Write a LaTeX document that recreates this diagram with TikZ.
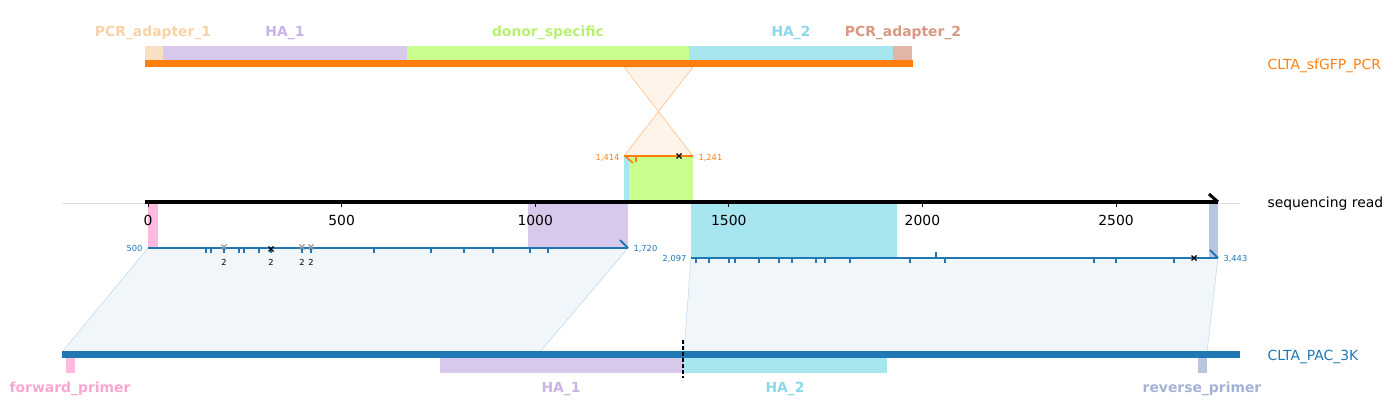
\documentclass[tikz,border=0pt]{standalone}
\usepackage{fontspec}
\setmainfont{DejaVu Sans}
\usetikzlibrary{positioning}
\definecolor{pcrorange}{HTML}{FF7F0E}
\definecolor{pacblue}{HTML}{1F77B4}
\definecolor{adaptA}{HTML}{F9E0C2}
\definecolor{adaptAtxt}{HTML}{F8D2A6}
\definecolor{homA}{HTML}{D8C8EC}
\definecolor{homAtxt}{HTML}{C8B4E6}
\definecolor{donor}{HTML}{C9FF8E}
\definecolor{donortxt}{HTML}{B8F070}
\definecolor{homB}{HTML}{A8E6EF}
\definecolor{homBtxt}{HTML}{8AD8E8}
\definecolor{adaptB}{HTML}{E1B5A8}
\definecolor{adaptBtxt}{HTML}{D99882}
\definecolor{fwd}{HTML}{FFB8DE}
\definecolor{fwdtxt}{HTML}{F9A6D4}
\definecolor{rev}{HTML}{BAC5E0}
\definecolor{revtxt}{HTML}{A3B2D6}
\definecolor{alnfill}{HTML}{F1F6FA}
\definecolor{alnedge}{HTML}{B4D2E8}
\definecolor{hourfill}{HTML}{FFF3EA}
\definecolor{houredge}{HTML}{FFCFA6}

\begin{document}
\begin{tikzpicture}[x=1pt,y=-1pt,
    featlabel/.style={font=\fontsize{13.9}{16}\selectfont\bfseries},
    seqlabel/.style={font=\fontsize{13.9}{16}\selectfont,anchor=west},
    ticklabel/.style={font=\fontsize{13.9}{16}\selectfont},
    poslabel/.style={font=\fontsize{8.3}{10}\selectfont},
    alntick/.style={pacblue,line width=2.4pt},
    crossmark/.style={line width=1.1pt}]
  \useasboundingbox (0,0) rectangle (1394,420);
  % top record
  \fill[adaptA] (145,46) rectangle (163,60);
  \fill[homA] (163,46) rectangle (407,60);
  \fill[donor] (407,46) rectangle (689,60);
  \fill[homB] (689,46) rectangle (893,60);
  \fill[adaptB] (893,46) rectangle (912,60);
  \fill[hourfill,draw=houredge,line width=0.9pt] (624,67) -- (693,67) -- (624,156) -- (693,156) -- cycle;
  \fill[pcrorange] (145,60) rectangle (913,67);
  \node[featlabel,text=adaptAtxt] (lblAdaptA) at (153,33) {PCR\_adapter\_1};
  \node[featlabel,text=homAtxt] (lblHomA) at (285,33) {HA\_1};
  \node[featlabel,text=donortxt] (lblDonor) at (548,33) {donor\_specific};
  \node[featlabel,text=homBtxt] (lblHomB) at (791,33) {HA\_2};
  \node[featlabel,text=adaptBtxt] (lblAdaptB) at (903,33) {PCR\_adapter\_2};
  \node[seqlabel,text=pcrorange] (lblPcr) at (1264,66) {CLTA\_sfGFP\_PCR};
  % sequencing read
  \fill[homB] (624,156) rectangle (629,202);
  \fill[donor] (629,156) rectangle (693,202);
  \fill[fwd] (148,203) rectangle (158,248);
  \fill[homA] (528,203) rectangle (628,248);
  \fill[homB] (691,203) rectangle (897,258);
  \fill[rev] (1209,203) rectangle (1218,258);
  \draw[black!12,line width=0.8pt] (62,203) -- (1240,203);
  \draw[line width=3.5pt] (145,202) -- (1218,202);
  \draw[line width=3pt] (1209,194) -- (1218,202);
  \foreach \v in {0,500,...,2500}{
    \draw[line width=0.9pt] ({148+\v*0.3872},204) -- ++(0,3);
    \node[ticklabel] (tick\v) at ({148+\v*0.3872},220) {\v};
  }
  \node[seqlabel] (lblRead) at (1264,204) {sequencing read};
  % donor hit on the read
  \draw[pcrorange,line width=2pt] (624,156) -- (693,156);
  \draw[pcrorange,line width=1.6pt] (625,156) -- (633,163);
  \draw[pcrorange,line width=1.6pt] (636,157) -- (636,162);
  \draw[crossmark] (676.5,153.5) -- (681.5,158.5) (676.5,158.5) -- (681.5,153.5);
  \node[poslabel,text=pcrorange,anchor=east] (posA) at (623,157.5) {1,414};
  \node[poslabel,text=pcrorange,anchor=west] (posB) at (695,157.5) {1,241};
  % alignments to the reference
  \fill[alnfill,draw=alnedge] (148,248) -- (628,248) -- (540,352) -- (62,352) -- cycle;
  \fill[alnfill,draw=alnedge] (691,258) -- (1218,258) -- (1207,352) -- (684,352) -- cycle;
  \draw[pacblue,line width=2pt] (148,248) -- (628,248);
  \draw[pacblue,line width=2pt] (620,240) -- (628,248);
  \foreach \x in {206,211,224,239,244,259,271,302,311,374,431,464,493,530,548}
    \draw[alntick] (\x,248) -- ++(0,5);
  \foreach \x in {224,302,311}
    \draw[crossmark,black!40] (\x-2.5,244.5) -- (\x+2.5,249.5) (\x-2.5,249.5) -- (\x+2.5,244.5);
  \draw[crossmark] (268.5,246.5) -- (273.5,251.5) (268.5,251.5) -- (273.5,246.5);
  \foreach \x in {224,271,302,311}
    \node[poslabel] (cnt\x) at (\x,262.5) {2};
  \node[poslabel,text=pacblue,anchor=east] (posC) at (146,248.5) {500};
  \node[poslabel,text=pacblue,anchor=west] (posD) at (630,248.5) {1,720};
  \draw[pacblue,line width=2pt] (691,258) -- (1218,258);
  \draw[pacblue,line width=2pt] (1210,250) -- (1218,258);
  \foreach \x in {696,709,729,735,759,779,792,816,825,850,910,945,1094,1116,1174}
    \draw[alntick] (\x,258) -- ++(0,5);
  \draw[alntick] (936,258) -- ++(0,-6);
  \draw[crossmark] (1191.5,255.5) -- (1196.5,260.5) (1191.5,260.5) -- (1196.5,255.5);
  \node[poslabel,text=pacblue,anchor=east] (posE) at (690,258.5) {2,097};
  \node[poslabel,text=pacblue,anchor=west] (posF) at (1220,258.5) {3,443};
  % reference record
  \fill[pacblue] (62,351) rectangle (1240,358);
  \fill[fwd] (66,358) rectangle (75,373);
  \fill[homA] (440,358) rectangle (683,373);
  \fill[homB] (683,358) rectangle (887,373);
  \fill[rev] (1198,358) rectangle (1207,373);
  \draw[line width=1.2pt,dash pattern=on 4pt off 2pt] (683,340) -- (683,378);
  \node[featlabel,text=fwdtxt] (lblFwd) at (70,389) {forward\_primer};
  \node[featlabel,text=homAtxt] (lblHomA2) at (561,389) {HA\_1};
  \node[featlabel,text=homBtxt] (lblHomB2) at (785,389) {HA\_2};
  \node[featlabel,text=revtxt] (lblRev) at (1202,389) {reverse\_primer};
  \node[seqlabel,text=pacblue] (lblPac) at (1264,357) {CLTA\_PAC\_3K};
\end{tikzpicture}
\end{document}
